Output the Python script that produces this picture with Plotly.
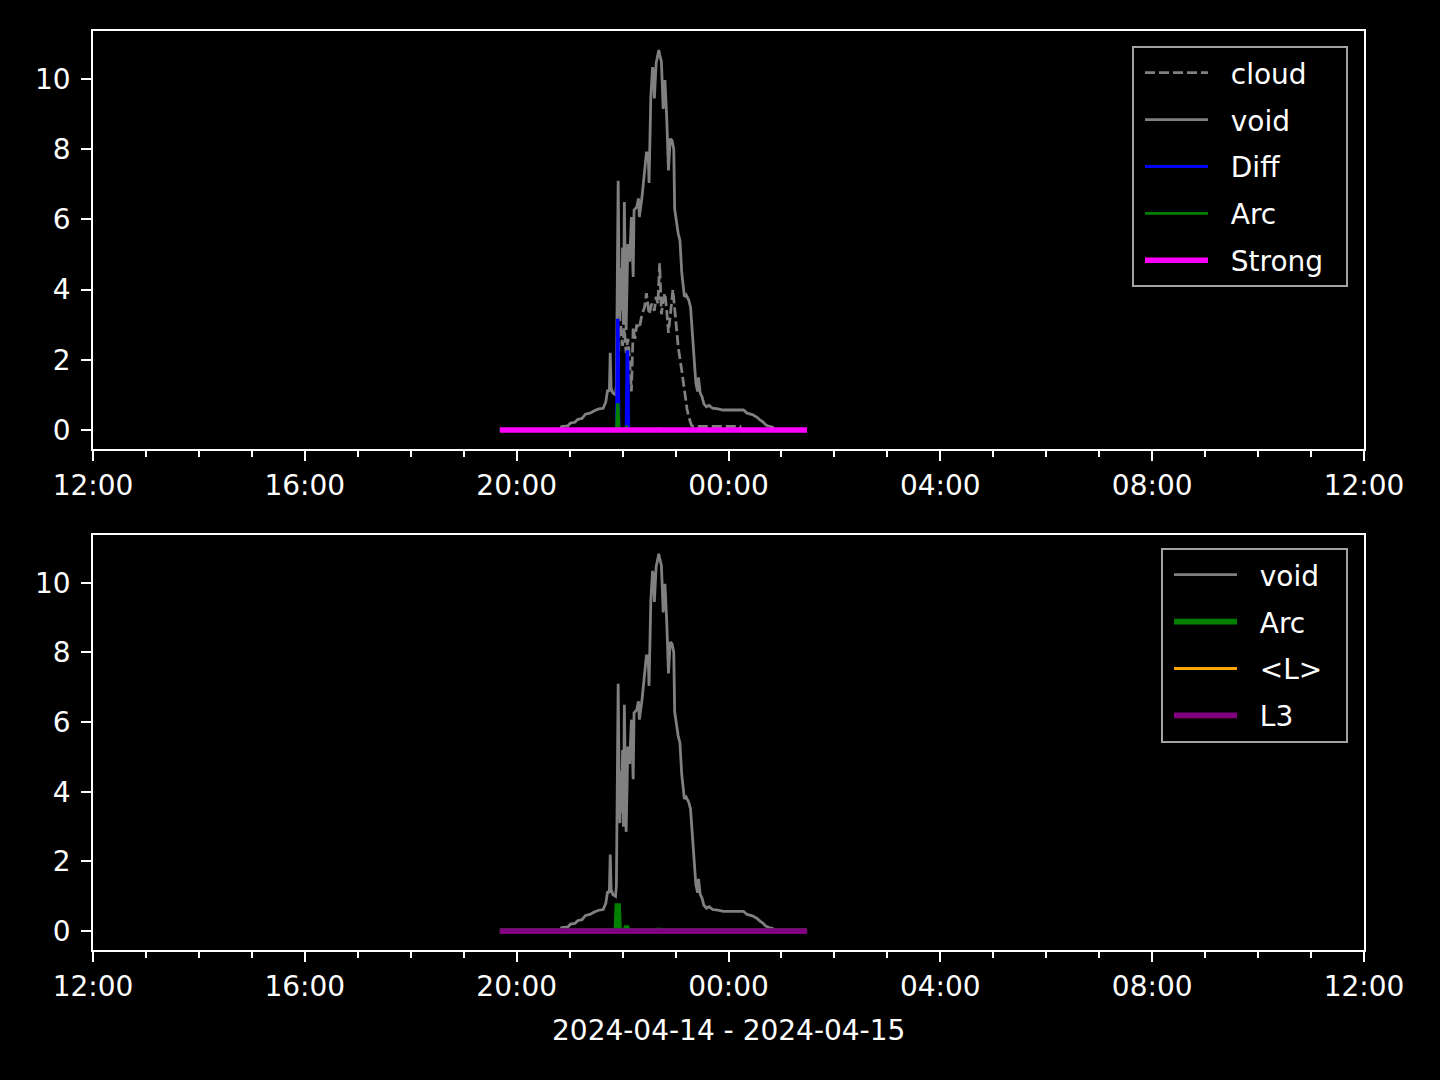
import plotly.graph_objects as go

D1 = "2024-04-14 "
D2 = "2024-04-15 "

# ---- data -------------------------------------------------------------
void_t = [D1+"19:41", D1+"20:49", D1+"20:51", D1+"20:58", D1+"21:01", D1+"21:06", D1+"21:09",
          D1+"21:14", D1+"21:18", D1+"21:23", D1+"21:28", D1+"21:33", D1+"21:38", D1+"21:41",
          D1+"21:43", D1+"21:45", D1+"21:46", D1+"21:47", D1+"21:49", D1+"21:52", D1+"21:53",
          D1+"21:55", D1+"21:56", D1+"21:57", D1+"21:58", D1+"21:59", D1+"22:00", D1+"22:01",
          D1+"22:02", D1+"22:03", D1+"22:04", D1+"22:06", D1+"22:08", D1+"22:10", D1+"22:11",
          D1+"22:12", D1+"22:13", D1+"22:16", D1+"22:18", D1+"22:19", D1+"22:22", D1+"22:25",
          D1+"22:27", D1+"22:29", D1+"22:30", D1+"22:32", D1+"22:34", D1+"22:35", D1+"22:36",
          D1+"22:38", D1+"22:41", D1+"22:42", D1+"22:44", D1+"22:46", D1+"22:48", D1+"22:50",
          D1+"22:52", D1+"22:54", D1+"22:56", D1+"22:58", D1+"22:59", D1+"23:03", D1+"23:05",
          D1+"23:07", D1+"23:10", D1+"23:12", D1+"23:15", D1+"23:17", D1+"23:20", D1+"23:23",
          D1+"23:25", D1+"23:26", D1+"23:28", D1+"23:30", D1+"23:32", D1+"23:35", D1+"23:38",
          D1+"23:42", D1+"23:48", D1+"23:54", D2+"00:17", D2+"00:21", D2+"00:27", D2+"00:32",
          D2+"00:36", D2+"00:39", D2+"00:42", D2+"00:45", D2+"00:50", D2+"00:52", D2+"01:29"]
void_v = [0, 0, 0.10, 0.12, 0.20, 0.22, 0.30,
          0.33, 0.45, 0.48, 0.55, 0.60, 0.62, 0.80,
          1.14, 1.10, 2.20, 1.20, 1.05, 1.00, 1.30,
          7.10, 4.50, 3.10, 4.60, 3.40, 5.20, 3.00,
          6.50, 4.00, 2.85, 5.30, 4.80, 6.07, 5.00,
          4.36, 6.27, 6.35, 6.60, 6.07, 6.64, 7.40,
          7.90, 7.90, 7.04, 9.50, 10.34, 10.20, 9.45,
          10.45, 10.83, 10.70, 10.50, 9.15, 9.97, 8.90,
          7.40, 8.30, 8.25, 8.00, 6.30, 5.60, 5.40,
          4.50, 3.80, 3.85, 3.70, 3.50, 2.28, 1.34,
          1.10, 1.50, 1.05, 0.95, 0.75, 0.66, 0.70,
          0.62, 0.60, 0.57, 0.57, 0.48, 0.44, 0.37,
          0.28, 0.23, 0.15, 0.11, 0.08, 0, 0]

cloud_t = [D1+"19:41", D1+"21:54", D1+"21:56", D1+"21:58", D1+"22:00", D1+"22:02", D1+"22:04",
           D1+"22:06", D1+"22:08", D1+"22:10", D1+"22:12", D1+"22:14", D1+"22:16", D1+"22:19",
           D1+"22:22", D1+"22:25", D1+"22:27", D1+"22:30", D1+"22:33", D1+"22:36", D1+"22:38",
           D1+"22:40", D1+"22:42", D1+"22:44", D1+"22:46", D1+"22:48", D1+"22:50", D1+"22:52",
           D1+"22:55", D1+"22:57", D1+"23:00", D1+"23:03", D1+"23:07", D1+"23:09", D1+"23:11",
           D1+"23:13", D1+"23:15", D1+"23:18", D1+"23:20", D2+"00:13", D2+"00:14", D2+"01:29"]
cloud_v = [0, 0, 2.7, 3.0, 2.4, 2.9, 2.2,
           2.6, 2.0, 1.1, 2.9, 2.6, 3.0, 2.9,
           3.3, 3.5, 3.9, 3.3, 3.6, 3.4, 3.8,
           3.6, 4.75, 3.3, 3.7, 3.9, 3.4, 2.77,
           3.5, 4.0, 3.2, 2.37, 1.7, 1.3, 0.95,
           0.6, 0.37, 0.14, 0.10, 0.10, 0, 0]

diff_t = [D1+"19:41", D1+"21:53", D1+"21:54", D1+"21:55", D1+"21:56", D1+"22:04",
          D1+"22:05", D1+"22:06", D1+"22:07", D2+"01:29"]
diff_v = [0, 0, 3.13, 3.13, 0, 0, 2.23, 2.23, 0, 0]

arc_t = [D1+"19:41", D1+"21:53", D1+"21:54", D1+"21:55", D1+"21:56", D1+"22:03",
         D1+"22:04", D1+"22:05", D1+"22:06", D1+"22:40", D1+"22:41", D1+"22:42", D2+"01:29"]
arc_v = [0, 0, 0.72, 0.72, 0, 0, 0.09, 0.09, 0, 0, 0.07, 0, 0]

flat_t = [D1+"19:41", D2+"01:29"]
strong_v = [0, 0]
L_mean_v = [0, 0]
L3_v = [0, 0]

x_range = ["2024-04-14 12:00", "2024-04-15 12:00"]
y_ticks = [0, 2, 4, 6, 8, 10]
x_label = "2024-04-14 - 2024-04-15"

# ---- figure -----------------------------------------------------------
FONT = "DejaVu Sans"
FS = 28
PT = 200 / 72.0  # px per point
PADL = "\u00a0\u00a0"
PADR = "\u00a0\u00a0"

fig = go.Figure()

def add(t, v, name, color, width, xa, ya, leg, dash=None, grp=None):
    fig.add_trace(go.Scatter(
        x=t, y=v, mode="lines", name=PADL + name + PADR,
        line=dict(color=color, width=width, dash=dash),
        xaxis=xa, yaxis=ya, legend=leg, legendgroup=grp,
    ))

# top panel
add(cloud_t, cloud_v, "cloud", "#808080", 1.0*PT, "x", "y", "legend", dash="10px,4px", grp="a1")
add(void_t, void_v, "void", "#808080", 1.0*PT, "x", "y", "legend", grp="a2")
add(diff_t, diff_v, "Diff", "#0000ff", 1.0*PT, "x", "y", "legend", grp="a3")
add(arc_t, arc_v, "Arc", "#008000", 1.0*PT, "x", "y", "legend", grp="a4")
add(flat_t, strong_v, "Strong", "#ff00ff", 2.0*PT, "x", "y", "legend", grp="a5")
# bottom panel
add(void_t, void_v, "void", "#808080", 1.0*PT, "x2", "y2", "legend2", grp="b1")
add(arc_t, arc_v, "Arc", "#008000", 2.0*PT, "x2", "y2", "legend2", grp="b2")
add(flat_t, L_mean_v, "<L>", "#ffa500", 1.0*PT, "x2", "y2", "legend2", grp="b3")
add(flat_t, L3_v, "L3", "#800080", 2.0*PT, "x2", "y2", "legend2", grp="b4")

W, H = 1440, 1080
ML, MR, MT, MB = 93, 76, 31, 130
PH = H - MT - MB

def py(pix):
    return (H - MB - pix) / PH

xcommon = dict(
    type="date", range=x_range, tickformat="%H:%M",
    tick0="2024-04-14 12:00", dtick=4 * 3600 * 1000,
    ticks="outside", ticklen=3.5*PT, tickwidth=0.8*PT, tickcolor="white",
    minor=dict(dtick=3600 * 1000, tick0="2024-04-14 12:00", ticks="outside",
               ticklen=2*PT, tickwidth=0.6*PT, tickcolor="white", showgrid=False),
    showline=True, mirror=True, linecolor="white", linewidth=0.8*PT,
    showgrid=False, zeroline=False,
    tickfont=dict(family=FONT, size=FS, color="white"),
    ticklabelstandoff=1,
)
ycommon = dict(
    range=[-0.5415, 11.3715], tickvals=y_ticks,
    ticks="outside", ticklen=3.5*PT, tickwidth=0.8*PT, tickcolor="white",
    showline=True, mirror=True, linecolor="white", linewidth=0.8*PT,
    showgrid=False, zeroline=False,
    tickfont=dict(family=FONT, size=FS, color="white"),
    ticklabelstandoff=5,
)

legcommon = dict(
    bgcolor="black", bordercolor="#a3a3a3", borderwidth=2,
    font=dict(family=FONT, size=FS, color="white"),
    xanchor="right", yanchor="top", x=(1348 - ML) / (W - ML - MR),
    tracegroupgap=7.5, itemwidth=63, indentation=6, traceorder="grouped",
)

fig.update_layout(
    width=W, height=H,
    margin=dict(l=ML, r=MR, t=MT, b=MB),
    paper_bgcolor="black", plot_bgcolor="black",
    font=dict(family=FONT, size=FS, color="white"),
    showlegend=True,
    xaxis=dict(domain=[0, 1], anchor="y", **xcommon),
    yaxis=dict(domain=[py(449), 1], anchor="x", **ycommon),
    xaxis2=dict(domain=[0, 1], anchor="y2", **xcommon),
    yaxis2=dict(domain=[0, py(535)], anchor="x2", **ycommon),
    legend=dict(y=py(46), **legcommon),
    legend2=dict(y=py(548), **legcommon),
    annotations=[dict(
        text=x_label, xref="paper", yref="paper", x=0.5, y=py(1030),
        xanchor="center", yanchor="middle", showarrow=False,
        font=dict(family=FONT, size=FS, color="white"),
    )],
)

fig.write_html(
    "out.html",
    config={"displayModeBar": False},
    post_script="document.documentElement.style.background='black';"
                "document.body.style.margin='0';document.body.style.background='black';",
)
